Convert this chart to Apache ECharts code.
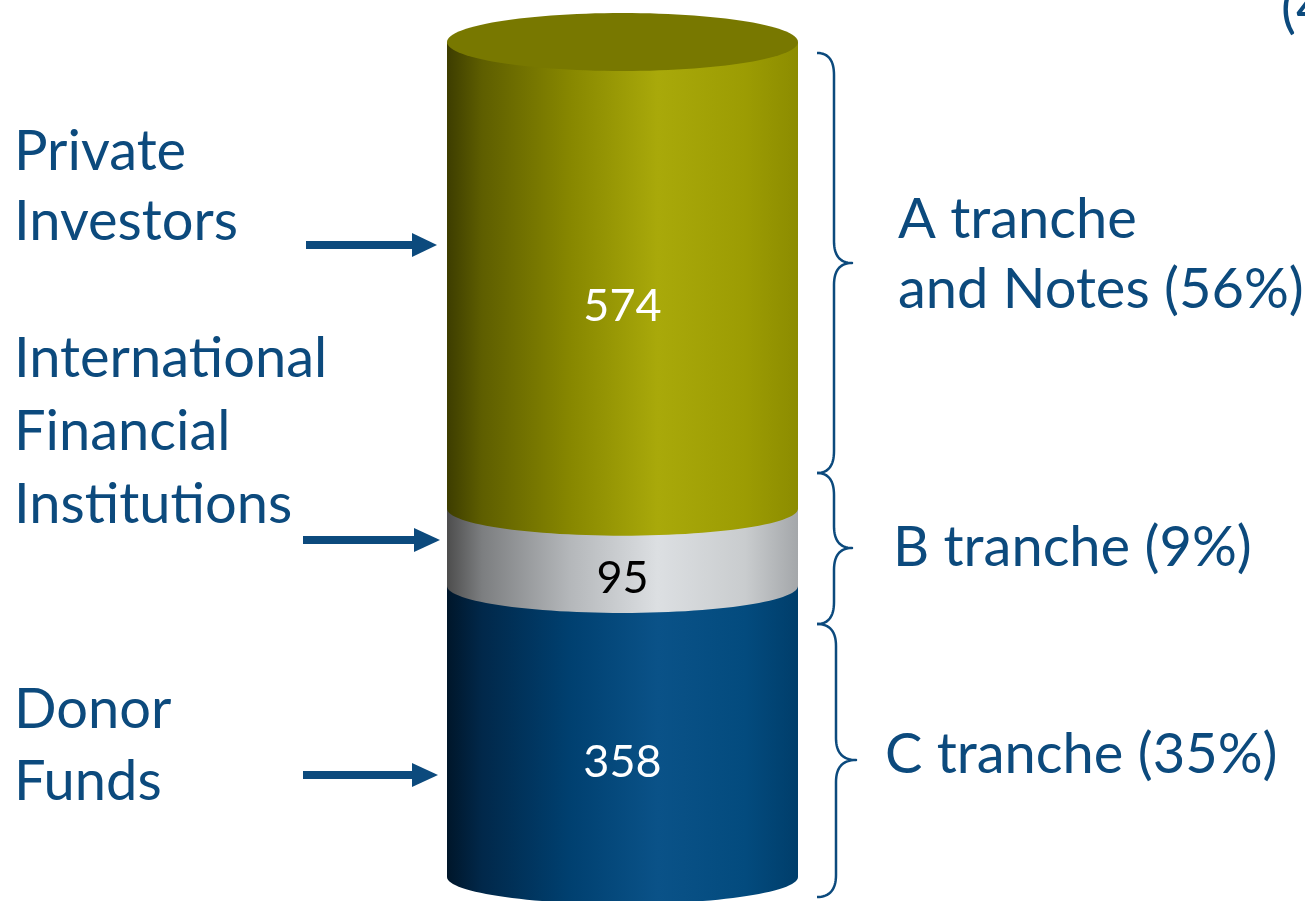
<!DOCTYPE html>
<html>
<head>
<meta charset="utf-8">
<script src="https://cdn.jsdelivr.net/npm/echarts@6/dist/echarts.min.js"></script>
<style>
html,body{margin:0;padding:0;background:#fff;}
#main{width:1305px;height:901px;}
</style>
</head>
<body>
<div id="main"></div>
<script>
// ---- data (bottom to top) ----
const investors = [['Donor', 'Funds'], ['International', 'Financial', 'Institutions'], ['Private', 'Investors']];
const tranches = [['C tranche (35%)'], ['B tranche (9%)'], ['A tranche', 'and Notes (56%)']];
const values = [358, 95, 574];
const cornerNote = '(4';

// ---- styles ----
const TXT = '#0c4a7d';
const FONT = 'Lato';
const RY = 27;
const segStyles = [
  { stops: [[0,'#00162a'],[0.1,'#01284a'],[0.35,'#004070'],[0.6,'#0a5288'],[0.85,'#034b7e'],[1,'#003e6b']], label: '#ffffff' },
  { stops: [[0,'#4d4d4d'],[0.1,'#7c7e80'],[0.35,'#b4b7ba'],[0.6,'#dcdfe2'],[0.85,'#c9ccce'],[1,'#a4a7aa']], label: '#000000' },
  { stops: [[0,'#3d3d00'],[0.1,'#5e5e00'],[0.35,'#878700'],[0.6,'#a9a90a'],[0.85,'#9c9c03'],[1,'#8c8c00']], label: '#ffffff' }
];
const capColor = '#787800';

const total = values.reduce((a, b) => a + b, 0);
const stacked = [];
let acc = 0;
values.forEach((v, i) => { stacked.push([0, acc, acc + v, i, v]); acc += v; });

function grad(stops) {
  return new echarts.graphic.LinearGradient(0, 0, 1, 0, stops.map(s => ({ offset: s[0], color: s[1] })));
}

function renderItem(params, api) {
  const start = api.value(1), end = api.value(2), idx = api.value(3), v = api.value(4);
  const pBot = api.coord([0, start]);
  const pTop = api.coord([0, end]);
  const cx = pBot[0];
  const hw = api.size([1, 0])[0] / 2;
  const pts = [[cx - hw, pTop[1]], [cx - hw, pBot[1]]];
  const N = 60;
  for (let k = 0; k <= N; k++) {
    const t = Math.PI - Math.PI * k / N;
    pts.push([cx + hw * Math.cos(t), pBot[1] + RY * Math.sin(t)]);
  }
  pts.push([cx + hw, pTop[1]]);
  const children = [{
    type: 'polygon', shape: { points: pts },
    style: { fill: grad(segStyles[idx].stops) }
  }];
  if (idx === values.length - 1) {
    const cap = [];
    for (let k = 0; k < 120; k++) {
      const t = 2 * Math.PI * k / 120;
      cap.push([cx + hw * Math.cos(t), pTop[1] + (RY + 2) * Math.sin(t)]);
    }
    children.push({ type: 'polygon', shape: { points: cap }, style: { fill: capColor } });
  }
  children.push({
    type: 'text',
    style: {
      text: String(v), x: cx, y: (pTop[1] + pBot[1]) / 2 + RY + 4,
      align: 'center', verticalAlign: 'middle',
      fill: segStyles[idx].label, font: '45px ' + FONT
    }
  });
  return { type: 'group', children };
}

const chart = echarts.init(document.getElementById('main'));
chart.setOption({
  animation: false,
  grid: { left: 447, width: 351, top: 42, bottom: 24 },
  xAxis: { type: 'category', data: [''], show: false },
  yAxis: { type: 'value', min: 0, max: total, show: false },
  series: [{ type: 'custom', renderItem, data: stacked, clip: false }]
});

// ---- annotations ----
const graphics = [];
function textLine(str, x, baseline, size) {
  graphics.push({
    type: 'text', x: x, y: baseline - size * 0.33,
    style: { text: str, fill: TXT, font: size + 'px ' + FONT, verticalAlign: 'middle', align: 'left' }
  });
}
const leftBaselines = [[728, 800], [377, 450, 523], [170, 240]];
investors.forEach((lines, i) => lines.forEach((l, j) => textLine(l, 14, leftBaselines[i][j], 56)));
const rightX = [885, 893, 898];
const rightBaselines = [[773], [566], [238, 308]];
tranches.forEach((lines, i) => lines.forEach((l, j) => textLine(l, rightX[i], rightBaselines[i][j], 56)));
textLine(cornerNote, 1281, 27, 56);

// arrows
[[306, 412, 437, 245], [303, 414, 440, 540], [303, 412, 438, 775]].forEach(a => {
  graphics.push({ type: 'line', shape: { x1: a[0], y1: a[3], x2: a[1] + 1, y2: a[3] }, style: { stroke: TXT, lineWidth: 8 } });
  graphics.push({ type: 'polygon', shape: { points: [[a[1], a[3] - 12], [a[2], a[3]], [a[1], a[3] + 12]] }, style: { fill: TXT } });
});

// braces (sampled quadratic curves)
function quad(p0, c, p1, out) {
  for (let k = 0; k <= 16; k++) {
    const t = k / 16, u = 1 - t;
    out.push([u * u * p0[0] + 2 * u * t * c[0] + t * t * p1[0], u * u * p0[1] + 2 * u * t * c[1] + t * t * p1[1]]);
  }
}
function brace(x0, x1, x2, yt, ym, yb, r) {
  const pts = [];
  quad([x0, yt], [x1, yt], [x1, yt + r], pts);
  quad([x1, ym - r], [x1, ym], [x2, ym], pts);
  quad([x2, ym], [x1, ym], [x1, ym + r], pts);
  quad([x1, yb - r], [x1, yb], [x0, yb], pts);
  graphics.push({ type: 'polyline', shape: { points: pts }, style: { stroke: TXT, lineWidth: 2.5, fill: null, lineJoin: 'round' } });
}
brace(817, 834, 852, 53, 263, 473, 22);
brace(817, 834, 852, 473, 548, 624, 22);
brace(817, 836, 856, 624, 760, 897, 22);

chart.setOption({ graphic: graphics });
</script>
</body>
</html>
